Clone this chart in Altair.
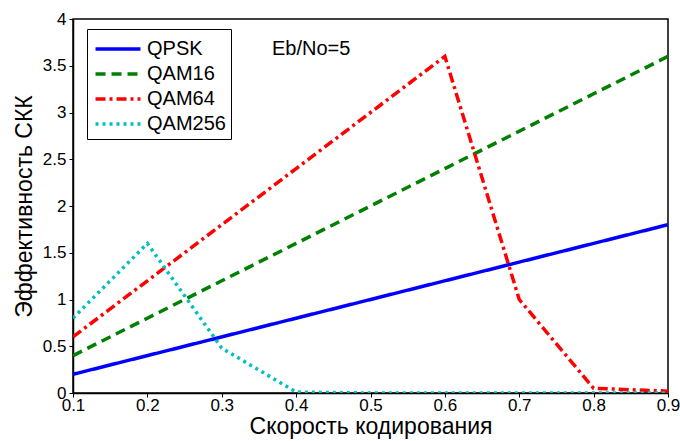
import altair as alt
import pandas as pd

rates = [0.1, 0.2, 0.3, 0.4, 0.5, 0.6, 0.7, 0.8, 0.9]
qpsk = [0.2, 0.4, 0.6, 0.8, 1.0, 1.2, 1.4, 1.6, 1.8]
qam16 = [0.4, 0.8, 1.2, 1.6, 2.0, 2.4, 2.8, 3.2, 3.6]
qam64 = [0.6, 1.2, 1.8, 2.4, 3.0, 3.6, 1.0, 0.05, 0.02]
qam256 = [0.8, 1.6, 0.48, 0.01, 0.0, 0.0, 0.0, 0.0, 0.0]
series = ["QPSK", "QAM16", "QAM64", "QAM256"]
colors = ["#0000ff", "#008000", "#ff0000", "#00bfbf"]
dashes = [[1, 0], [10, 6], [10, 4, 3, 4], [3, 4]]

rows = []
for name, vals in zip(series, [qpsk, qam16, qam64, qam256]):
    for r, v in zip(rates, vals):
        rows.append({"rate": r, "eff": v, "mod": name})
df = pd.DataFrame(rows)

FONT = "Liberation Sans"

leg = alt.Legend(title=None, orient="none", legendX=14, legendY=10,
                 strokeColor="black", fillColor="white", padding=5,
                 symbolType="M-1.73,0H1.73", symbolSize=676, symbolStrokeWidth=3.5,
                 labelFontSize=20, labelFont=FONT, labelColor="black", rowPadding=0,
                 symbolOffset=11, labelOffset=14, labelLimit=300)

lines = alt.Chart(df).mark_line(strokeWidth=3.5, clip=True).encode(
    x=alt.X("rate:Q", scale=alt.Scale(domain=[0.1, 0.9], nice=False),
            axis=alt.Axis(values=rates, format=".1f", title="Скорость кодирования",
                          tickSize=4, grid=False, labelFlush=False)),
    y=alt.Y("eff:Q", scale=alt.Scale(domain=[0, 4], nice=False),
            axis=alt.Axis(values=[0, 0.5, 1, 1.5, 2, 2.5, 3, 3.5, 4], format="~g",
                          title="Эффективность СКК", tickSize=4, grid=False, labelFlush=False)),
    color=alt.Color("mod:N", scale=alt.Scale(domain=series, range=colors), legend=leg),
    strokeDash=alt.StrokeDash("mod:N", scale=alt.Scale(domain=series, range=dashes), legend=leg),
    order=alt.Order("rate:Q"),
)

label = alt.Chart(pd.DataFrame({"t": ["Eb/No=5"]})).mark_text(
    align="left", baseline="middle", fontSize=20, font=FONT, color="black"
).encode(x=alt.value(199), y=alt.value(30), text="t:N")

chart = alt.layer(lines, label).properties(
    width=595, height=374,
    padding={"left": 73, "top": 19, "right": 12, "bottom": 48},
    autosize=alt.AutoSizeParams(type="none"),
    background="white",
).configure_view(stroke="black", strokeWidth=1.5).configure_axis(
    labelFont=FONT, titleFont=FONT, labelFontSize=17, titleFontSize=23,
    titleFontWeight="normal", labelColor="black", titleColor="black",
    domainColor="black", tickColor="black", domainWidth=1.5,
).configure_axisX(titlePadding=2, labelPadding=0).configure_axisY(
    titlePadding=6, labelPadding=3
)

chart.save("out.html", embed_options={"renderer": "svg", "actions": False})
